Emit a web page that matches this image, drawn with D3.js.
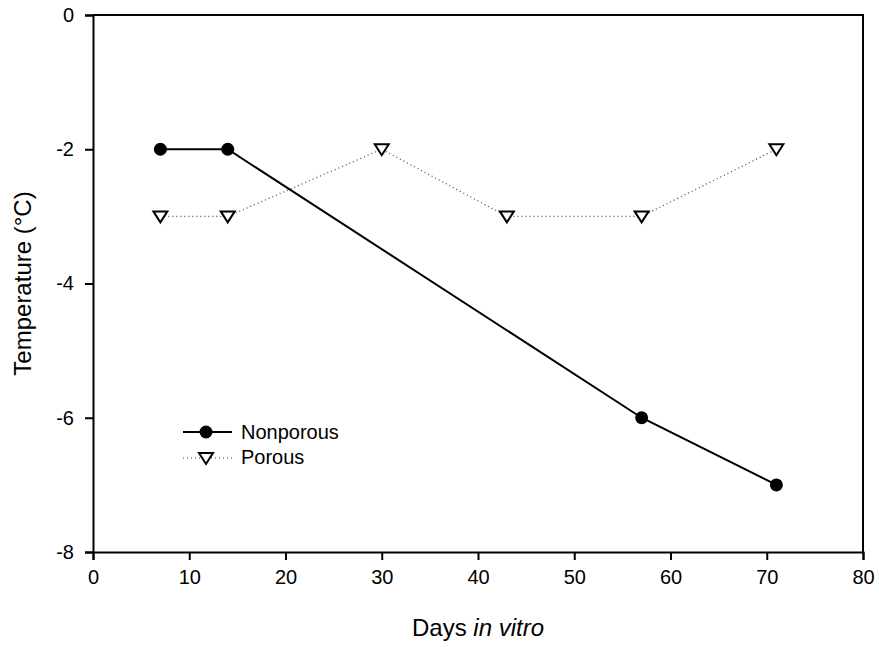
<!DOCTYPE html>
<html>
<head>
<meta charset="utf-8">
<script src="https://cdn.jsdelivr.net/npm/d3@7"></script>
<style>
  html, body { margin: 0; padding: 0; background: #fff; }
  svg { display: block; font-family: "Liberation Sans", Arial, sans-serif; }
</style>
</head>
<body>
<svg id="chart" width="879" height="647"></svg>
<script>
// Freezing temperature of the two scaffold types over time in culture
const nonporousDays = [7, 14, 57, 71];
const nonporousTemp = [-2, -2, -6, -7];
const porousDays = [7, 14, 30, 43, 57, 71];
const porousTemp = [-3, -3, -2, -3, -3, -2];
const xTicks = [0, 10, 20, 30, 40, 50, 60, 70, 80];
const yTicks = [0, -2, -4, -6, -8];
const seriesNames = ["Nonporous", "Porous"];

const svg = d3.select("#chart");
const plotLeft = 93, plotRight = 863, plotTop = 15, plotBottom = 552;

const x = d3.scaleLinear().domain([0, 80]).range([plotLeft, plotRight]);
const y = d3.scaleLinear().domain([-8, 0]).range([plotBottom, plotTop]);

// Frame (top and right edges)
svg.append("path")
  .attr("d", `M${plotLeft},${plotTop}H${plotRight}V${plotBottom}`)
  .attr("fill", "none").attr("stroke", "#000").attr("stroke-width", 2);

// Axes
const xAxis = svg.append("g").attr("transform", `translate(0,${plotBottom})`)
  .call(d3.axisBottom(x).tickValues(xTicks).tickSize(8).tickPadding(10).tickFormat(d3.format("d")));
const yAxis = svg.append("g").attr("transform", `translate(${plotLeft},0)`)
  .call(d3.axisLeft(y).tickValues(yTicks).tickSize(8).tickPadding(11).tickFormat(d => d === 0 ? "0" : "-" + Math.abs(d)));

[xAxis, yAxis].forEach(g => {
  g.select(".domain").attr("stroke-width", 2).attr("stroke", "#000");
  g.selectAll(".tick line").attr("stroke-width", 2).attr("stroke", "#000");
  g.selectAll(".tick text").attr("font-size", 20).attr("fill", "#000")
    .attr("font-family", "Liberation Sans, Arial, sans-serif");
});

// Axis titles
const xt = svg.append("text")
  .attr("x", (plotLeft + plotRight) / 2).attr("y", 636)
  .attr("text-anchor", "middle").attr("font-size", 24).attr("fill", "#000");
xt.append("tspan").text("Days ");
xt.append("tspan").attr("font-style", "italic").text("in vitro");

svg.append("text")
  .attr("transform", `translate(31,${(plotTop + plotBottom) / 2}) rotate(-90)`)
  .attr("text-anchor", "middle").attr("font-size", 24).attr("fill", "#000")
  .text("Temperature (°C)");

const line = d3.line().x(d => x(d[0])).y(d => y(d[1]));
const nonporous = nonporousDays.map((d, i) => [d, nonporousTemp[i]]);
const porous = porousDays.map((d, i) => [d, porousTemp[i]]);

// Porous series: dotted line with open down-triangles
svg.append("path").datum(porous).attr("d", line)
  .attr("fill", "none").attr("stroke", "#444").attr("stroke-width", 1.2)
  .attr("stroke-dasharray", "1,3");

// Nonporous series: solid line with filled circles
svg.append("path").datum(nonporous).attr("d", line)
  .attr("fill", "none").attr("stroke", "#000").attr("stroke-width", 2);

const tri = (cx, cy) => `M${cx - 7},${cy - 5}L${cx + 7},${cy - 5}L${cx},${cy + 6}Z`;

svg.append("g").selectAll("path").data(porous).join("path")
  .attr("d", d => tri(x(d[0]), y(d[1])))
  .attr("fill", "#fff").attr("stroke", "#000").attr("stroke-width", 2)
  .attr("stroke-linejoin", "miter");

svg.append("g").selectAll("circle").data(nonporous).join("circle")
  .attr("cx", d => x(d[0])).attr("cy", d => y(d[1])).attr("r", 6.5)
  .attr("fill", "#000");

// Legend
const lg = svg.append("g");
const ly1 = 432, ly2 = 458, lx0 = 183, lx1 = 232, lmx = 206;
lg.append("line").attr("x1", lx0).attr("x2", lx1).attr("y1", ly1).attr("y2", ly1)
  .attr("stroke", "#000").attr("stroke-width", 2);
lg.append("circle").attr("cx", lmx).attr("cy", ly1).attr("r", 6.5).attr("fill", "#000");
lg.append("line").attr("x1", lx0).attr("x2", lx1).attr("y1", ly2).attr("y2", ly2)
  .attr("stroke", "#444").attr("stroke-width", 1.2).attr("stroke-dasharray", "1,3");
lg.append("path").attr("d", tri(lmx, ly2)).attr("fill", "#fff")
  .attr("stroke", "#000").attr("stroke-width", 2);
lg.selectAll("text").data(seriesNames).join("text")
  .attr("x", 241).attr("y", (d, i) => (i === 0 ? 439 : 464))
  .attr("font-size", 20).attr("fill", "#000").text(d => d);
</script>
</body>
</html>
